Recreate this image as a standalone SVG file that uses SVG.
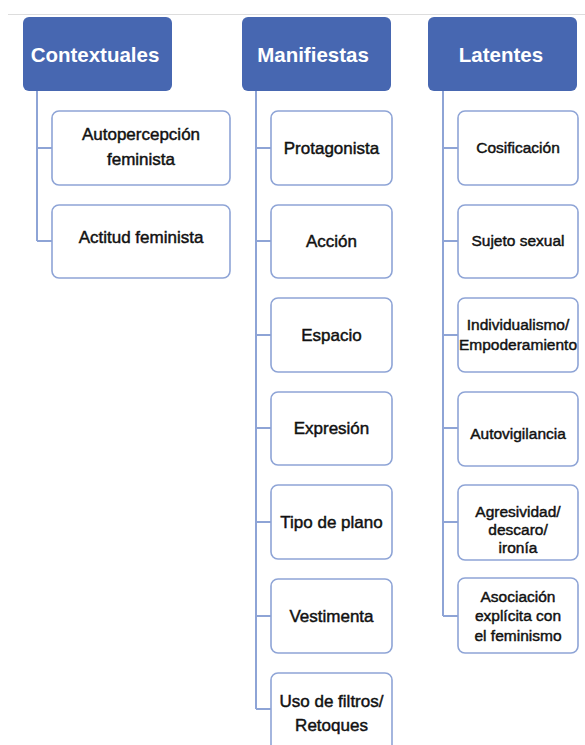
<svg xmlns="http://www.w3.org/2000/svg" width="585" height="745" viewBox="0 0 585 745">
<style>
.hdr{fill:#4767b1;}
.htxt{font-family:"Liberation Sans",Arial,sans-serif;font-weight:bold;font-size:20.5px;fill:#ffffff;text-anchor:middle;dominant-baseline:central;}
.box{fill:#ffffff;stroke:#8ea4d6;stroke-width:1.6;}
.t{font-family:"Liberation Sans",Arial,sans-serif;font-size:17px;fill:#111111;text-anchor:middle;stroke:#111111;stroke-width:0.45;}
.ts{font-family:"Liberation Sans",Arial,sans-serif;font-size:15.5px;fill:#111111;text-anchor:middle;stroke:#111111;stroke-width:0.45;}
.c{fill:none;stroke:#8ea4d6;stroke-width:2;}
</style>
<rect width="585" height="745" fill="#ffffff"/>
<line x1="8" y1="14.5" x2="585" y2="14.5" stroke="#dddddd" stroke-width="1.2"/>
<g id="connectors">
<path class="c" d="M37,90 V241 M37,148 H52 M37,241 H52"/>
<path class="c" d="M256,90 V709 M256,148 H271 M256,241 H271 M256,335 H271 M256,428 H271 M256,522 H271 M256,616 H271 M256,709 H271"/>
<path class="c" d="M443,90 V616 M443,148 H458 M443,241 H458 M443,335 H458 M443,428 H458 M443,522 H458 M443,616 H458"/>
</g>
<g id="contextuales"><rect class="hdr" x="23" y="17" width="149" height="74" rx="6"/><text class="htxt" x="95" y="54">Contextuales</text></g>
<g id="manifiestas"><rect class="hdr" x="242" y="17" width="149" height="74" rx="6"/><text class="htxt" x="313" y="54">Manifiestas</text></g>
<g id="latentes"><rect class="hdr" x="428" y="17" width="149" height="74" rx="6"/><text class="htxt" x="501" y="54">Latentes</text></g>
<g id="autopercepcion"><rect class="box" x="52" y="111" width="178" height="74" rx="7"/><text class="t" x="141" y="140">Autopercepción</text><text class="t" x="141" y="165">feminista</text></g>
<g id="actitud"><rect class="box" x="52" y="205" width="178" height="73" rx="7"/><text class="t" x="141" y="243">Actitud feminista</text></g>
<g id="protagonista"><rect class="box" x="271" y="111" width="121" height="74" rx="7"/><text class="t" x="331.5" y="154">Protagonista</text></g>
<g id="accion"><rect class="box" x="271" y="205" width="121" height="73" rx="7"/><text class="t" x="331.5" y="247">Acción</text></g>
<g id="espacio"><rect class="box" x="271" y="298" width="121" height="74" rx="7"/><text class="t" x="331.5" y="341">Espacio</text></g>
<g id="expresion"><rect class="box" x="271" y="392" width="121" height="73" rx="7"/><text class="t" x="331.5" y="434">Expresión</text></g>
<g id="tipoplano"><rect class="box" x="271" y="485" width="121" height="74" rx="7"/><text class="t" x="331.5" y="528">Tipo de plano</text></g>
<g id="vestimenta"><rect class="box" x="271" y="579" width="121" height="74" rx="7"/><text class="t" x="331.5" y="622">Vestimenta</text></g>
<g id="filtros"><rect class="box" x="271" y="673" width="121" height="80" rx="7"/><text class="t" x="331.5" y="707">Uso de filtros/</text><text class="t" x="331.5" y="731">Retoques</text></g>
<g id="cosificacion"><rect class="box" x="458" y="111" width="120" height="74" rx="7"/><text class="ts" x="518" y="153">Cosificación</text></g>
<g id="sujeto"><rect class="box" x="458" y="205" width="120" height="73" rx="7"/><text class="ts" x="518" y="246">Sujeto sexual</text></g>
<g id="individualismo"><rect class="box" x="458" y="298" width="120" height="74" rx="7"/><text class="ts" x="518" y="330">Individualismo/</text><text class="ts" x="518" y="350">Empoderamiento</text></g>
<g id="autovigilancia"><rect class="box" x="458" y="392" width="120" height="74" rx="7"/><text class="ts" x="518" y="439">Autovigilancia</text></g>
<g id="agresividad"><rect class="box" x="458" y="485" width="120" height="75" rx="7"/><text class="ts" x="518" y="517">Agresividad/</text><text class="ts" x="518" y="535">descaro/</text><text class="ts" x="518" y="553">ironía</text></g>
<g id="asociacion"><rect class="box" x="458" y="578" width="120" height="75" rx="7"/><text class="ts" x="518" y="602">Asociación</text><text class="ts" x="518" y="621">explícita con</text><text class="ts" x="518" y="641">el feminismo</text></g>
</svg>
